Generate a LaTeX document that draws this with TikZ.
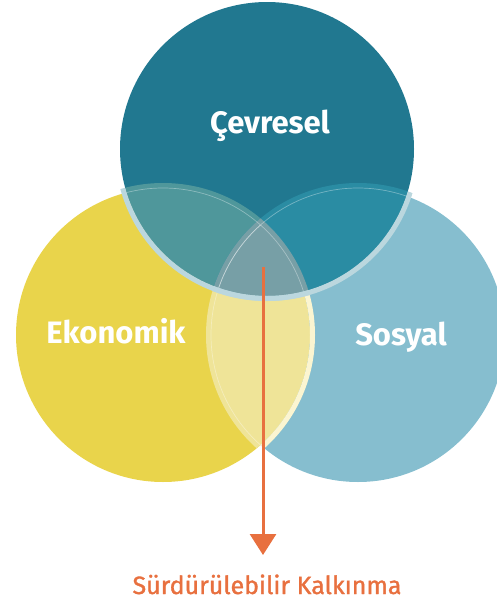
\documentclass[tikz,border=0pt]{standalone}
\usepackage{fontspec}
\setmainfont{Fira Sans}
\newfontfamily\goalfont{Fira Sans}[FakeBold=1.3]
\usetikzlibrary{arrows.meta}
\definecolor{cTop}{HTML}{217890}
\definecolor{cLeft}{HTML}{E9D44B}
\definecolor{cRight}{HTML}{86BECF}
\definecolor{cTL}{HTML}{4F979B}
\definecolor{cTR}{HTML}{2A8CA3}
\definecolor{cLens}{HTML}{EFE498}
\definecolor{cMid}{HTML}{779FA6}
\definecolor{cRing}{HTML}{BBD7DE}
\definecolor{cCream}{HTML}{FBF5D1}
\definecolor{cOrange}{HTML}{E8703F}
\tikzset{
  label/.style={text=white, font=\bfseries\fontsize{31}{31}\selectfont, inner sep=0pt, anchor=base},
  thinline/.style={draw=white, draw opacity=0.35, line width=0.7pt},
  goaltext/.style={text=cOrange, font=\goalfont\fontsize{25}{25}\selectfont, inner sep=0pt, anchor=base},
  flow/.style={draw=cOrange, line width=3pt, -{Triangle[width=26pt,length=21pt]}}
}
\begin{document}
\begin{tikzpicture}[x=1pt,y=-1pt]
\useasboundingbox (0,0) rectangle (497,605);
\clip (0,0) rectangle (497,605);
\coordinate (T) at (267,149);
\coordinate (L) at (163,335);
\coordinate (R) at (358,335);
\def\rf{147pt}
\def\ro{152pt}
% base circles
\fill[cLeft] (L) circle (\rf);
\fill[cRight] (R) circle (\rf);
\fill[cTop] (T) circle (\rf);
% lens left/right
\begin{scope}
  \clip (L) circle (\rf);
  \fill[cLens] (R) circle (\ro);
\end{scope}
\begin{scope}
  \clip (R) circle (\rf);
  \fill[cCream, even odd rule] (L) circle (\ro) (L) circle (\rf);
\end{scope}
% overlaps with the top circle
\begin{scope}
  \clip (T) circle (\rf);
  \fill[cTL] (L) circle (\ro);
  \fill[cTR] (R) circle (\ro);
  \clip (L) circle (\ro);
  \fill[cMid] (R) circle (\ro);
\end{scope}
% thin inner lines
\begin{scope}
  \clip (T) circle (\rf);
  \draw[thinline] (L) circle (\rf);
  \draw[thinline] (R) circle (\rf);
\end{scope}
\begin{scope}
  \clip (L) circle (\rf);
  \draw[thinline] (R) circle (\rf);
\end{scope}
% light ring of the top circle
\begin{scope}
  \clip (L) circle (\ro);
  \fill[cRing, even odd rule] (T) circle (\ro) (T) circle (\rf);
\end{scope}
\begin{scope}
  \clip (R) circle (\ro);
  \fill[cRing, even odd rule] (T) circle (\ro) (T) circle (\rf);
\end{scope}
% labels
\node[label] (cev) at (270,133) {Çevresel};
\node[label] (eko) at (116,343) {Ekonomik};
\node[label] (sos) at (401,345) {Sosyal};
% arrow and goal
\coordinate (astart) at (263,267);
\coordinate (aend) at (263,555);
\draw[flow] (astart) -- (aend);
\node[goaltext] (goal) at (267,594) {Sürdürülebilir Kalkınma};
\end{tikzpicture}
\end{document}
